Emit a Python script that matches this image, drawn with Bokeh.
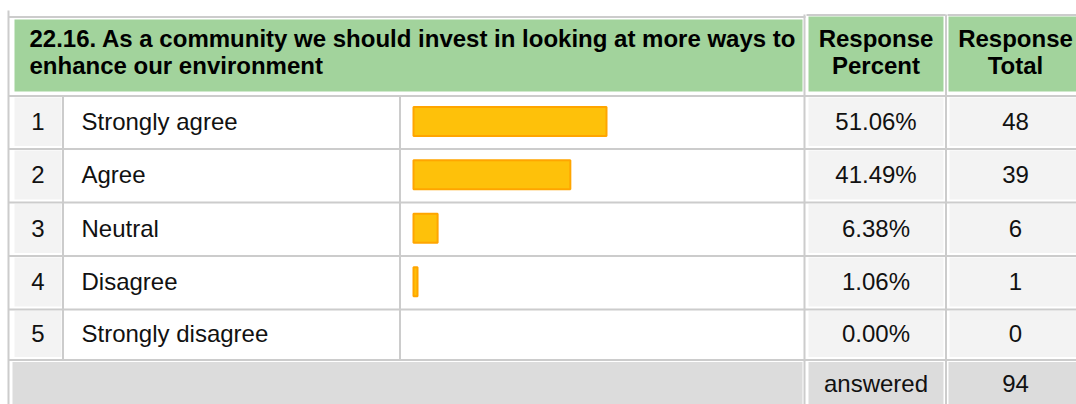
from bokeh.plotting import figure
from bokeh.models import Range1d, ColumnDataSource
from bokeh.core.properties import value
from bokeh.embed import file_html
from bokeh.resources import INLINE

# ---------------- data ----------------
question_lines = ["22.16. As a community we should invest in looking at more ways to",
                  "enhance our environment"]
pct_header = ["Response", "Percent"]
tot_header = ["Response", "Total"]
row_numbers = ["1", "2", "3", "4", "5"]
answers = ["Strongly agree", "Agree", "Neutral", "Disagree", "Strongly disagree"]
percents = [51.06, 41.49, 6.38, 1.06, 0.00]
totals = [48, 39, 6, 1, 0]
answered_label = "answered"
answered_total = 94

# ---------------- style / layout ----------------
GREEN = "#A2D39C"
LINE = "#CCCCCC"
LIGHT = "#F3F3F3"
FOOT = "#DCDCDC"
BAR_FILL = "#FEC10A"
BAR_LINE = "#FFA500"
FONT = value("Liberation Sans")
FS = "24px"
DY = -9  # baseline correction for text placement

W, H = 1076, 404
row_lines = [95.5, 148.5, 202.0, 255.5, 309.0, 359.5]
x_num_c, x_label, x_pct_c, x_tot_c = 37.5, 81, 875.5, 1015
bar_zero, px_per_pct = 413.0, 3.78

p = figure(width=W, height=H, x_range=Range1d(0, W), y_range=Range1d(H, 0),
           output_backend="svg", toolbar_location=None, min_border=0)
p.axis.visible = False
p.grid.visible = False
p.outline_line_color = None
p.background_fill_color = "white"
p.border_fill_color = "white"
p.extra_x_ranges = {"pct": Range1d((0 - bar_zero) / px_per_pct, (W - bar_zero) / px_per_pct)}

# header cells
p.quad(left=[14, 808, 948], right=[802, 943, W], top=[19, 16, 16], bottom=[91, 91, 91],
       fill_color=GREEN, line_color=None)

# body cells
n = len(answers)
tops = [row_lines[i] + 1.5 for i in range(n)]
bots = [row_lines[i + 1] - 3 for i in range(n)]
p.quad(left=[14] * n, right=[61] * n, top=tops, bottom=bots, fill_color=LIGHT, line_color=None)
p.quad(left=[808] * n, right=[943] * n, top=tops, bottom=bots, fill_color=LIGHT, line_color=None)
p.quad(left=[949] * n, right=[W] * n, top=tops, bottom=bots, fill_color=LIGHT, line_color=None)

# footer row
p.quad(left=[12, 808, 948], right=[802, 943, W], top=[361.5] * 3, bottom=[H] * 3,
       fill_color=FOOT, line_color=None)

# grid lines
p.segment(x0=[8, 806, 947] + [8] * len(row_lines), x1=[805, 945, W] + [W] * len(row_lines),
          y0=[16.5, 14.5, 14.5] + row_lines, y1=[16.5, 14.5, 14.5] + row_lines,
          line_color=LINE, line_width=2)
p.segment(x0=[8, 804, 945.5], x1=[8, 804, 945.5], y0=[10, 14, 14], y1=[H] * 3,
          line_color=LINE, line_width=2)
p.segment(x0=[62.5, 399.5], x1=[62.5, 399.5], y0=[row_lines[0]] * 2, y1=[row_lines[-1]] * 2,
          line_color=LINE, line_width=2)

# bars (through the pct range)
centers = [(row_lines[i] + row_lines[i + 1]) / 2 for i in range(n)]
bar_src = ColumnDataSource(dict(y=[c - 1 for c, v in zip(centers, percents) if v > 0],
                                right=[v for v in percents if v > 0]))
p.hbar(y="y", left=0, right="right", height=29, source=bar_src, x_range_name="pct",
       fill_color=BAR_FILL, line_color=BAR_LINE, line_width=2)

# header texts
hy = [46.7 + DY, 74 + DY]
hdr = dict(text_font=FONT, text_font_size=FS, text_font_style="bold",
           text_baseline="alphabetic", text_color="black")
p.text(x=[29, 29], y=hy, text=question_lines, text_align="left", **hdr)
p.text(x=[x_pct_c, x_pct_c], y=hy, text=pct_header, text_align="center", **hdr)
p.text(x=[x_tot_c, x_tot_c], y=hy, text=tot_header, text_align="center", **hdr)

# row texts
base = [c + 8 + DY for c in centers]
src = ColumnDataSource(dict(base=base, num=row_numbers, ans=answers,
                            pct=["%.2f%%" % v for v in percents], tot=[str(t) for t in totals]))
common = dict(source=src, y="base", text_font=FONT, text_font_size=FS, text_baseline="alphabetic",
              text_color="#111111")
p.text(x=x_num_c, text="num", text_align="center", **common)
p.text(x=x_label, text="ans", text_align="left", **common)
p.text(x=x_pct_c, text="pct", text_align="center", **common)
p.text(x=x_tot_c, text="tot", text_align="center", **common)

p.text(x=[x_pct_c, x_tot_c], y=[392 + DY] * 2, text=[answered_label, str(answered_total)], text_font=FONT,
       text_font_size=FS, text_baseline="alphabetic", text_align="center", text_color="#111111")

open("out.html", "w").write(file_html(p, INLINE))
